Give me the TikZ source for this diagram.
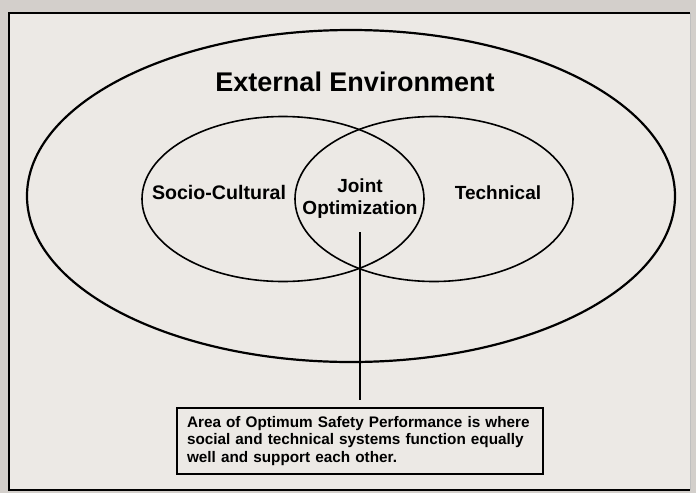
\documentclass[tikz,border=0pt]{standalone}
\usepackage{fontspec}
\setmainfont{Liberation Sans}
\usetikzlibrary{shapes.geometric}

\definecolor{paper}{HTML}{ECE9E5}
\definecolor{scanedge}{HTML}{D3CFCB}

\begin{document}
\begin{tikzpicture}[x=1pt,y=-1pt,
  ring/.style={ellipse,draw,line width=1.6pt,inner sep=0pt},
  set label/.style={font=\bfseries\fontsize{19}{22}\selectfont,align=center},
  note box/.style={draw,line width=1.2pt,font=\bfseries\fontsize{15.3}{17.5}\selectfont,
    text width=346pt,align=left,inner xsep=10pt,minimum height=66pt}]
  \useasboundingbox (0,0) rectangle (696,493);

  % sheet and frame
  \fill[scanedge] (0,0) rectangle (696,493);
  \fill[paper] (9,13) rectangle (690,490);
  \draw[line width=2.5pt] (690,13) -- (9,13) -- (9,490) -- (690,490);
  \draw[black!25,line width=1pt] (690,13) -- (690,490);

  % environment and the two overlapping systems
  \node[ring,line width=2.2pt,minimum width=648pt,minimum height=332pt] (env) at (351,196) {};
  \node[ring,minimum width=282pt,minimum height=165pt] (socio) at (283,199) {};
  \node[ring,minimum width=278pt,minimum height=165pt] (tech) at (434,199) {};

  \node[set label,font=\bfseries\fontsize{27}{32}\selectfont] (envlabel) at (355,82) {External Environment};
  \node[set label,font=\bfseries\fontsize{19.6}{22}\selectfont] (sociolabel) at (219,192) {Socio-Cultural};
  \node[set label] (techlabel) at (498,193) {Technical};
  \node[set label] (joint) at (360,199) {Joint\\Optimization};

  \node[note box] (note) at (360,441) {Area of Optimum Safety Performance is where social and technical systems function equally well and support each other.};

  \draw[line width=1.5pt,shorten <=10pt,shorten >=7pt] (joint.south) -- (note.north);
\end{tikzpicture}
\end{document}
